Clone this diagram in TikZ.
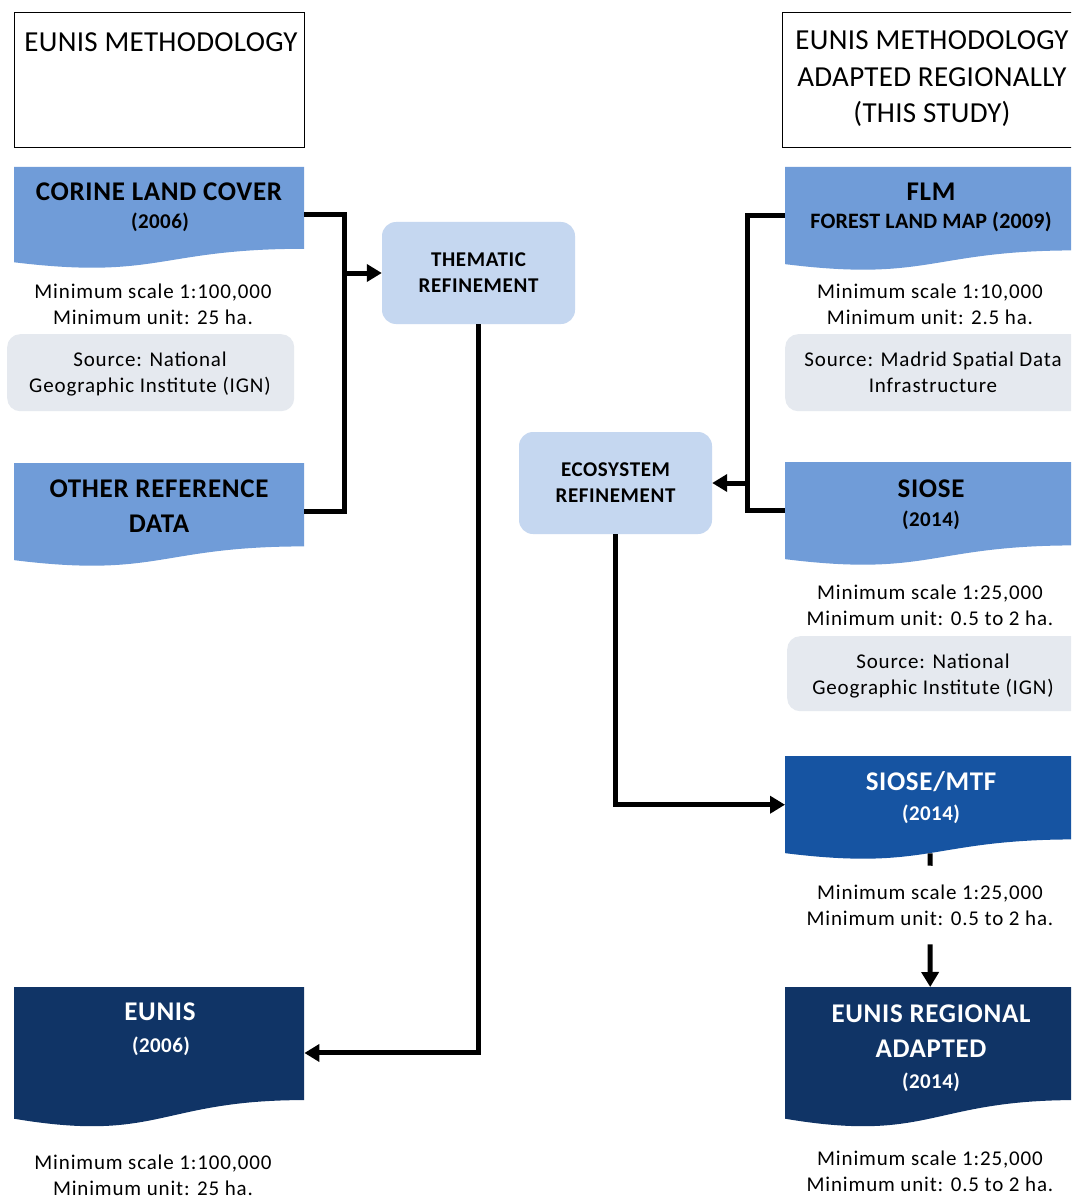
\documentclass[tikz,border=0pt]{standalone}
\usepackage{fontspec}
\setmainfont{Carlito}
\usetikzlibrary{arrows.meta}
\definecolor{docblue}{RGB}{112,156,216}
\definecolor{refblue}{RGB}{197,215,240}
\definecolor{srcgray}{RGB}{229,233,239}
\definecolor{midblue}{RGB}{22,84,162}
\definecolor{navyblue}{RGB}{16,52,102}
\newcommand{\wavedoc}[6]{%
  \pgfmathsetmacro\dxr{#2+#4}%
  \pgfmathsetmacro\dxm{#2+0.5*#4}%
  \pgfmathsetmacro\dya{#3+0.802*#5}%
  \pgfmathsetmacro\dyb{#3+1.1075*#5}%
  \pgfmathsetmacro\dyc{#3+0.934*#5}%
  \pgfmathsetmacro\dhn{0.933*#5}%
  \fill[#6] (#2,#3) -- (\dxr,#3) -- (\dxr,\dya) .. controls (\dxm,\dya) and (\dxm,\dyb) .. (#2,\dyc) -- cycle;
  \node[inner sep=0pt, minimum width=#4pt, minimum height=\dhn pt, anchor=north west] (#1) at (#2,#3) {};
}
\begin{document}
\begin{tikzpicture}[x=1pt,y=-1pt,
  hdrbox/.style={draw=black, line width=1.2pt, inner sep=0pt, anchor=north west},
  hdr/.style={font=\fontsize{29}{36.5}\selectfont\addfontfeature{LetterSpace=1}, align=center, anchor=base},
  info/.style={font=\fontsize{21}{25.5}\selectfont\addfontfeature{LetterSpace=4}, align=center, anchor=base},
  ttl/.style={font=\bfseries\fontsize{27}{35}\selectfont\addfontfeature{LetterSpace=2.5}, align=center, anchor=base},
  yr/.style={font=\bfseries\fontsize{21}{24}\selectfont\addfontfeature{LetterSpace=2}, anchor=base},
  srcbox/.style={fill=srcgray, rounded corners=13pt, inner sep=0pt, anchor=north west},
  refbox/.style={fill=refblue, rounded corners=14pt, minimum width=193pt, minimum height=102pt,
     inner sep=0pt, align=center, font=\bfseries\fontsize{21}{26}\selectfont\addfontfeature{LetterSpace=3}},
  conn/.style={line width=5pt, line join=miter},
  arr/.style={conn, -{Triangle[length=15pt,width=17pt]}}]
\clip (0,0) rectangle (1071,1198);
\fill[white] (0,0) rectangle (1071,1198);

% headers
\node[hdrbox, minimum width=290pt, minimum height=135pt] (hleft) at (14,12) {};
\node[hdr] (hleftt) at (161,52) {EUNIS METHODOLOGY};
\node[hdrbox, minimum width=310pt, minimum height=135pt] (hright) at (782,12) {};
\node[hdr] (hrightt) at (932,123) {EUNIS METHODOLOGY\\ADAPTED REGIONALLY\\(THIS STUDY)};

% left column
\wavedoc{corine}{14}{167}{290}{102}{docblue}
\node[ttl] (corinet) at (159,201) {CORINE LAND COVER};
\node[yr] (coriney) at (160,229) {(2006)};
\node[info] (corinei) at (153,324) {Minimum scale 1:100,000\\Minimum unit: 25 ha.};
\node[srcbox, minimum width=287pt, minimum height=77pt] (corines) at (7,334) {};
\node[info] (corinest) at (150,392) {Source: National\\Geographic Institute (IGN)};

\wavedoc{other}{14}{463}{290}{104}{docblue}
\node[ttl] (othert) at (159,532) {OTHER REFERENCE\\DATA};

\wavedoc{eunis}{14}{987}{290}{141}{navyblue}
\node[ttl, text=white] (eunist) at (160,1020) {EUNIS};
\node[yr, text=white] (eunisy) at (161,1052) {(2006)};
\node[info] (eunisi) at (153,1195) {Minimum scale 1:100,000\\Minimum unit: 25 ha.};

% middle
\node[refbox] (thematic) at (478.5,273) {THEMATIC\\REFINEMENT};
\node[refbox] (eco) at (615.5,483) {ECOSYSTEM\\REFINEMENT};

% right column
\wavedoc{flm}{785}{167}{290}{104}{docblue}
\node[ttl] (flmt) at (931,201) {FLM};
\node[yr, font=\bfseries\fontsize{22}{24}\selectfont\addfontfeature{LetterSpace=1}] (flmy) at (931,229) {FOREST LAND MAP (2009)};
\node[info] (flmi) at (930,324) {Minimum scale 1:10,000\\Minimum unit: 2.5 ha.};
\node[srcbox, minimum width=300pt, minimum height=77pt] (flms) at (785,334) {};
\node[info] (flmst) at (933,392) {Source: Madrid Spatial Data\\Infrastructure};

\wavedoc{siose}{785}{462}{290}{104}{docblue}
\node[ttl] (sioset) at (931,497) {SIOSE};
\node[yr] (siosey) at (931,526) {(2014)};
\node[info] (siosei) at (930,625) {Minimum scale 1:25,000\\Minimum unit: 0.5 to 2 ha.};
\node[srcbox, minimum width=300pt, minimum height=75pt] (sioses) at (787,636) {};
\node[info] (siosest) at (933,694) {Source: National\\Geographic Institute (IGN)};

\wavedoc{mtf}{785}{756}{290}{104}{midblue}
\node[ttl, text=white] (mtft) at (931,790) {SIOSE/MTF};
\node[yr, text=white] (mtfy) at (931,820) {(2014)};
\node[info, inner ysep=19pt] (mtfi) at (930,925) {Minimum scale 1:25,000\\Minimum unit: 0.5 to 2 ha.};

\wavedoc{regional}{785}{987}{290}{141}{navyblue}
\node[ttl, text=white] (regionalt) at (931,1057) {EUNIS REGIONAL\\ADAPTED};
\node[yr, text=white] (regionaly) at (931,1088) {(2014)};
\node[info] (regionali) at (930,1191) {Minimum scale 1:25,000\\Minimum unit: 0.5 to 2 ha.};

% connectors
\coordinate (j1) at (344,273);
\coordinate (j2) at (747,483);
\draw[conn] (corine.east) -| (j1) |- (other.east);
\draw[arr] (j1) -- (thematic.west);
\draw[arr] (thematic.south) |- (eunis.east);
\draw[conn] (flm.west) -| (j2) |- (siose.west);
\draw[arr] (j2) -- (eco.east);
\draw[arr] (eco.south) |- (mtf.west);
\draw[conn] (mtf.south) -- (mtfi.north);
\draw[arr] (mtfi.south) -- (regional.north);
\end{tikzpicture}
\end{document}
